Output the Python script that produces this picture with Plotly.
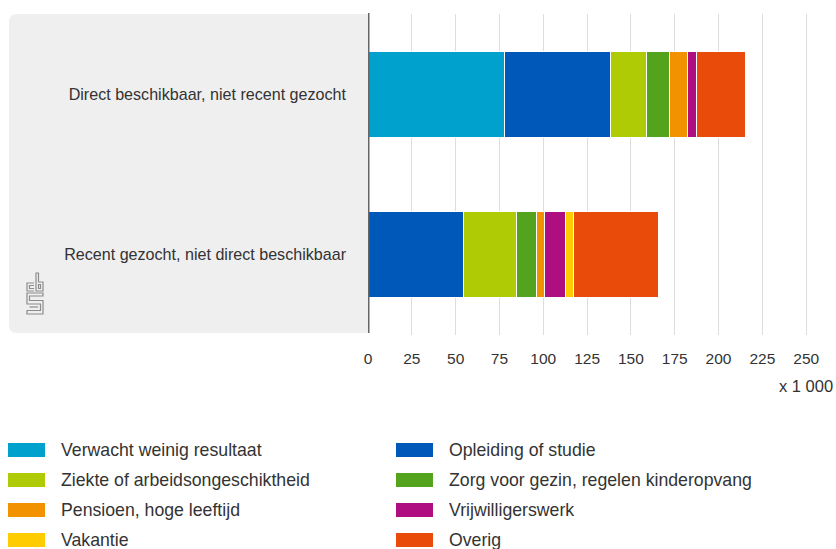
import plotly.graph_objects as go

categories = ["Direct beschikbaar, niet recent gezocht", "Recent gezocht, niet direct beschikbaar"]
series_names = [
    "Verwacht weinig resultaat",
    "Opleiding of studie",
    "Ziekte of arbeidsongeschiktheid",
    "Zorg voor gezin, regelen kinderopvang",
    "Pensioen, hoge leeftijd",
    "Vrijwilligerswerk",
    "Vakantie",
    "Overig",
]
series_colors = ["#00A1CD", "#0058B8", "#AFCB05", "#53A31D", "#F39200", "#AF0E80", "#FFCC00", "#E94C0A"]
# values in thousands: [Direct beschikbaar..., Recent gezocht...]
verwacht = [78.0, 0.0]
opleiding = [60.5, 54.6]
ziekte = [20.2, 30.0]
zorg = [13.3, 11.8]
pensioen = [10.3, 4.2]
vrijwilligers = [5.0, 11.8]
vakantie = [0.0, 5.1]
overig = [27.8, 48.5]
series_values = [verwacht, opleiding, ziekte, zorg, pensioen, vrijwilligers, vakantie, overig]
tick_vals = [0, 25, 50, 75, 100, 125, 150, 175, 200, 225, 250]

W, H = 836, 549
L, R, T, B = 368, 0, 14, 214
PW, PH = W - L - R, H - T - B

def px(x):
    return (x - L) / PW

def py(y):
    return 1 - (y - T) / PH

FONT = "Arial, Liberation Sans, sans-serif"
TXT = "#333333"

fig = go.Figure()
for name, color, vals in zip(series_names, series_colors, series_values):
    fig.add_trace(go.Bar(
        y=categories, x=vals, name=name, orientation="h",
        marker=dict(color=color, line=dict(color="white", width=1)),
        showlegend=False, hoverinfo="x+name",
    ))

shapes = []
# grey panel behind category labels (rounded left corners)
x0, x1, y0, y1, r = px(9), px(368), py(14), py(333), 8
rx, ry = r / PW, r / PH
path = (f"M {x1},{y0} L {x0+rx},{y0} Q {x0},{y0} {x0},{y0-ry} "
        f"L {x0},{y1+ry} Q {x0},{y1} {x0+rx},{y1} L {x1},{y1} Z")
shapes.append(dict(type="path", path=path, xref="paper", yref="paper",
                   fillcolor="#EFEFEF", line=dict(width=0), layer="below"))
# axis line at zero
shapes.append(dict(type="line", x0=0, x1=0, xref="x", y0=py(13), y1=py(333), yref="paper",
                   line=dict(color="#666666", width=3), layer="above"))

annotations = []
# unit label
annotations.append(dict(text="x 1 000", x=px(835), y=py(386), xref="paper", yref="paper",
                        xanchor="right", yanchor="middle", showarrow=False,
                        font=dict(family=FONT, size=16.5, color=TXT)))
# custom legend
col_x = [8, 396]
row_y = [450, 480, 510, 540]
for i, (name, color) in enumerate(zip(series_names, series_colors)):
    cx = col_x[i % 2]
    cy = row_y[i // 2]
    shapes.append(dict(type="rect", xref="paper", yref="paper",
                       x0=px(cx), x1=px(cx + 37), y0=py(cy - 7), y1=py(cy + 7),
                       fillcolor=color, line=dict(width=0)))
    annotations.append(dict(text=name, x=px(cx + 51), y=py(cy), xref="paper", yref="paper",
                            xanchor="left", yanchor="middle", showarrow=False,
                            font=dict(family=FONT, size=17.7, color=TXT)))

# cbs logo (line drawing)
logo_paths = [
    # c
    "M 34,283 L 27,283 L 27,291 L 34,291",
    "M 34,285.5 L 29.5,285.5 L 29.5,288.5 L 34,288.5",
    # b
    "M 36,273 L 36,291 L 43,291 L 43,282 L 38.5,282 L 38.5,273 Z",
    "M 38.5,284.5 L 40.5,284.5 L 40.5,288.5 L 38.5,288.5 Z",
    # S
    "M 43,293 L 27,293 L 27,304 L 40.5,304 L 40.5,310.5 L 27,310.5 L 27,314 L 43,314 L 43,300.5 L 29.5,300.5 L 29.5,296 L 43,296 Z",
    "M 29.5,307 L 38,307",
]
for p in logo_paths:
    out = []
    for tok in p.split():
        if "," in tok:
            a, b = tok.split(",")
            out.append(f"{px(float(a))},{py(float(b))}")
        else:
            out.append(tok)
    shapes.append(dict(type="path", path=" ".join(out), xref="paper", yref="paper",
                       fillcolor="rgba(0,0,0,0)", line=dict(color="#8C8C8C", width=1.2)))

fig.update_layout(
    width=W, height=H,
    margin=dict(l=L, r=R, t=T, b=B, pad=0),
    paper_bgcolor="white", plot_bgcolor="white",
    barmode="stack", bargap=0.464,
    font=dict(family=FONT, size=14, color=TXT),
    showlegend=False,
    xaxis=dict(range=[0, 267], tickvals=tick_vals, showgrid=True, gridcolor="#DDDDDD",
               gridwidth=1, zeroline=False, showline=False, ticks="",
               tickfont=dict(family=FONT, size=15.5, color=TXT), ticklabelstandoff=12,
               fixedrange=True),
    yaxis=dict(categoryorder="array", categoryarray=categories, autorange="reversed",
               showgrid=False, zeroline=False, showline=False, ticks="",
               tickfont=dict(family=FONT, size=16.1, color=TXT), ticklabelstandoff=21,
               fixedrange=True),
    shapes=shapes, annotations=annotations,
)

fig.write_html("out.html")
